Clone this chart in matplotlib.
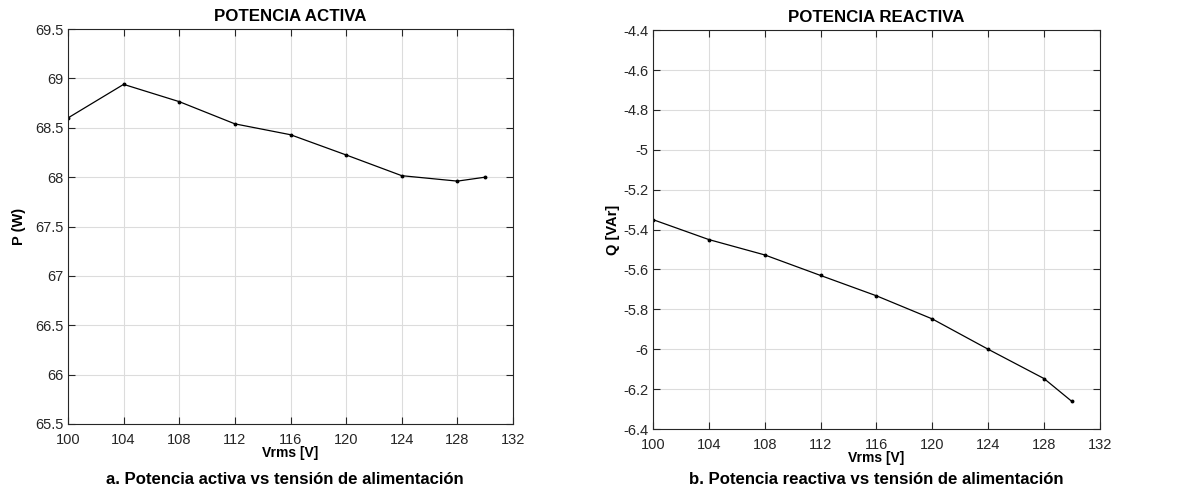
import matplotlib
matplotlib.use("Agg")
import matplotlib.pyplot as plt

plt.rcParams['font.family'] = ['Liberation Sans', 'DejaVu Sans']

vrms = [100, 104, 108, 112, 116, 120, 124, 128, 130]
p_activa = [68.60, 68.94, 68.765, 68.54, 68.43, 68.225, 68.015, 67.96, 68.0]
q_reactiva = [-5.35, -5.45, -5.527, -5.63, -5.732, -5.848, -6.0, -6.147, -6.262]

x_ticks = [100, 104, 108, 112, 116, 120, 124, 128, 132]
p_ticks = [65.5, 66, 66.5, 67, 67.5, 68, 68.5, 69, 69.5]
q_ticks = [-6.4, -6.2, -6, -5.8, -5.6, -5.4, -5.2, -5, -4.8, -4.6, -4.4]


def style_axes(ax, yticks):
    ax.set_xlim(100, 132)
    ax.set_ylim(yticks[0], yticks[-1])
    ax.set_xticks(x_ticks)
    ax.set_xticklabels([f"{t:g}" for t in x_ticks])
    ax.set_yticks(yticks)
    ax.set_yticklabels([f"{t:g}" for t in yticks])
    ax.grid(True, color='#dcdcdc', linewidth=0.8)
    ax.set_axisbelow(True)
    ax.tick_params(direction='in', top=True, right=True, length=5,
                   labelsize=10.5, colors='#262626', width=0.8)
    ax.tick_params(axis='x', pad=6.5)
    for s in ax.spines.values():
        s.set_color('#262626')
        s.set_linewidth(0.8)


fig = plt.figure(figsize=(11.95, 4.93), dpi=100)

ax1 = fig.add_axes([0.0569, 0.140, 0.3724, 0.801])
ax1.plot(vrms, p_activa, color='black', linewidth=0.9, marker='o', markersize=1.8)
style_axes(ax1, p_ticks)
ax1.set_title('POTENCIA ACTIVA', fontsize=12.2, fontweight='bold', pad=6)
ax1.set_xlabel('Vrms [V]', fontsize=10, fontweight='bold', labelpad=-1)
ax1.set_ylabel('P (W)', fontsize=10.5, fontweight='bold', labelpad=6)

ax2 = fig.add_axes([0.5464, 0.1298, 0.374, 0.809])
ax2.plot(vrms, q_reactiva, color='black', linewidth=0.9, marker='o', markersize=1.8)
style_axes(ax2, q_ticks)
ax2.set_title('POTENCIA REACTIVA', fontsize=12.2, fontweight='bold', pad=6)
ax2.set_xlabel('Vrms [V]', fontsize=10, fontweight='bold', labelpad=-1)
ax2.set_ylabel('Q [VAr]', fontsize=10.5, fontweight='bold', labelpad=2)

fig.text(0.2385, 0.027, 'a. Potencia activa vs tensión de alimentación',
         ha='center', va='center', fontsize=12.1, fontweight='bold')
fig.text(0.7335, 0.027, 'b. Potencia reactiva vs tensión de alimentación',
         ha='center', va='center', fontsize=12.1, fontweight='bold')

fig.savefig('out.png', dpi=100)
